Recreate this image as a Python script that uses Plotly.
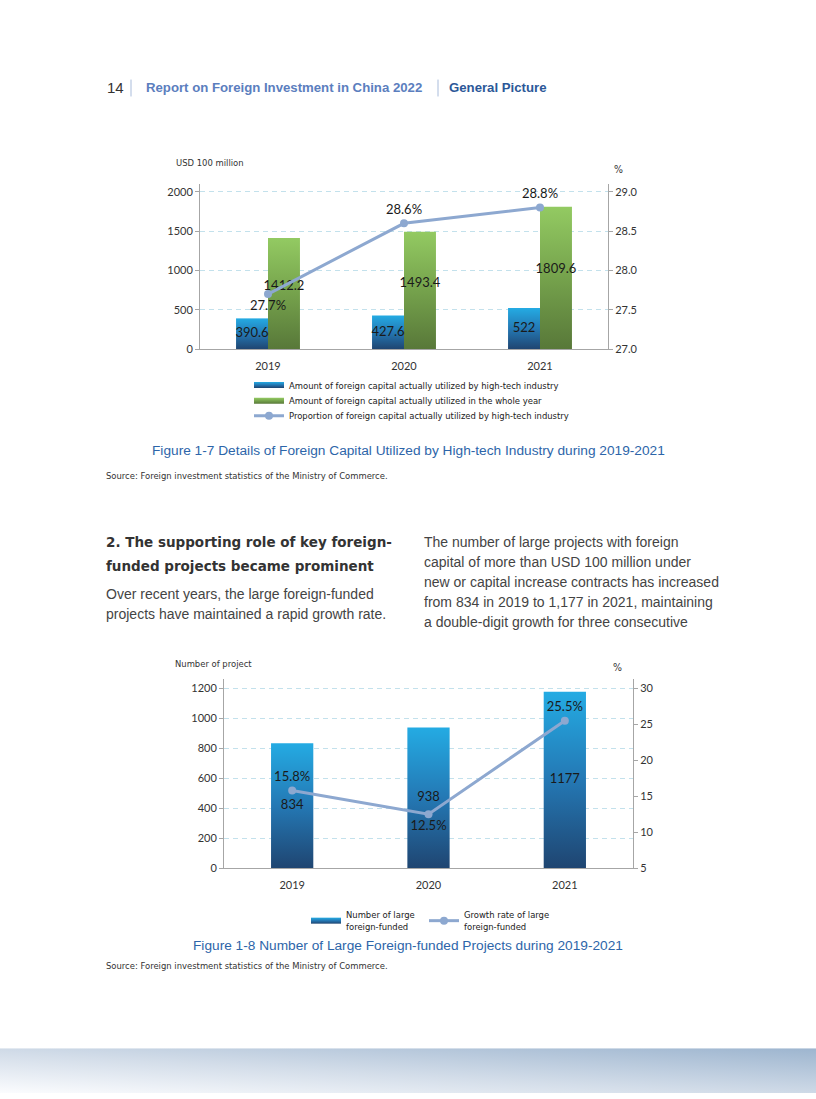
import base64
import plotly.graph_objects as go

# ---------------- data ----------------
years = ["2019", "2020", "2021"]
hightech_fdi = [390.6, 427.6, 522]          # USD 100 million
total_fdi = [1412.2, 1493.4, 1809.6]        # USD 100 million
hightech_share = [27.7, 28.6, 28.8]         # %
large_projects = [834, 938, 1177]           # number
large_growth = [15.8, 12.5, 25.5]           # %

left1_ticks = [0, 500, 1000, 1500, 2000]
right1_ticks = [27.0, 27.5, 28.0, 28.5, 29.0]
left2_ticks = [0, 200, 400, 600, 800, 1000, 1200]
right2_ticks = [5, 10, 15, 20, 25, 30]

# ---------------- page geometry helpers ----------------
W, H = 816, 1099


def px(x):
    return x / W


def py(y):
    return 1 - y / H


NARROW = "DejaVu Sans Condensed, Liberation Sans Narrow, Arial Narrow, sans-serif"
ARIAL = "Liberation Sans, Arial, sans-serif"
HEAD = "DejaVu Sans, Verdana, sans-serif"
CAL = "Lato, Carlito, Calibri, sans-serif"

BLUE_SCALE = [[0, "#1F4571"], [0.5, "#2478B4"], [1, "#24ABE3"]]
GREEN_SCALE = [[0, "#587839"], [0.5, "#75A24C"], [1, "#93CA62"]]
LINE_COLOR = "#8DA8D0"
AXIS_COLOR = "#A6A6A6"
GRID_COLOR = "#C3E1EC"
NSZ = 9.4

fig = go.Figure()


def bar_polygon(i, v, off0, off1):
    xs = [i + off0, i + off1, i + off1, i + off0, i + off0]
    ys = [0, 0, v, v, 0]
    return xs, ys


# ---------------- chart 1 ----------------
HW1 = 0.235
for i, v in enumerate(hightech_fdi):
    xs, ys = bar_polygon(i, v, -HW1, 0)
    fig.add_trace(go.Scatter(
        x=xs, y=ys, mode="none", fill="toself",
        fillgradient=dict(type="vertical", colorscale=BLUE_SCALE),
        name="Amount of foreign capital actually utilized by high-tech industry",
        legend="legend", legendgroup="ht", showlegend=(i == 0),
        xaxis="x", yaxis="y", hoverinfo="skip"))
for i, v in enumerate(total_fdi):
    xs, ys = bar_polygon(i, v, 0, HW1)
    fig.add_trace(go.Scatter(
        x=xs, y=ys, mode="none", fill="toself",
        fillgradient=dict(type="vertical", colorscale=GREEN_SCALE),
        name="Amount of foreign capital actually utilized in the whole year",
        legend="legend2", legendgroup="tot", showlegend=(i == 0),
        xaxis="x", yaxis="y", hoverinfo="skip"))

fig.add_trace(go.Scatter(
    x=[i - HW1 / 2 for i in range(len(years))], y=[v * 0.5 for v in hightech_fdi],
    mode="text", text=[f"{v:g}" for v in hightech_fdi],
    textfont=dict(family=CAL, size=13, color="#1A1A1A"),
    showlegend=False, xaxis="x", yaxis="y", hoverinfo="skip"))
fig.add_trace(go.Scatter(
    x=[i + HW1 / 2 for i in range(len(years))], y=[v * 0.56 for v in total_fdi],
    mode="text", text=[f"{v:g}" for v in total_fdi],
    textfont=dict(family=CAL, size=13, color="#1A1A1A"),
    showlegend=False, xaxis="x", yaxis="y", hoverinfo="skip"))

fig.add_trace(go.Scatter(
    x=list(range(len(years))), y=hightech_share,
    mode="lines+markers+text", text=[f"{v}%" for v in hightech_share],
    textposition=["bottom center", "top center", "top center"],
    textfont=dict(family=CAL, size=13, color="#1A1A1A"),
    line=dict(color=LINE_COLOR, width=3), marker=dict(color=LINE_COLOR, size=8),
    name="Proportion of foreign capital actually utilized by high-tech industry",
    legend="legend3", xaxis="x", yaxis="y2", hoverinfo="skip"))

# ---------------- chart 2 ----------------
HW2 = 0.155
for i, v in enumerate(large_projects):
    xs, ys = bar_polygon(i, v, -HW2, HW2)
    fig.add_trace(go.Scatter(
        x=xs, y=ys, mode="none", fill="toself",
        fillgradient=dict(type="vertical", colorscale=BLUE_SCALE),
        name="Number of large<br>foreign-funded",
        legend="legend4", legendgroup="lp", showlegend=(i == 0),
        xaxis="x2", yaxis="y3", hoverinfo="skip"))

fig.add_trace(go.Scatter(
    x=list(range(len(years))), y=[v * 0.5 for v in large_projects],
    mode="text", text=[f"{v:g}" for v in large_projects],
    textfont=dict(family=CAL, size=13, color="#1A1A1A"),
    showlegend=False, xaxis="x2", yaxis="y3", hoverinfo="skip"))

fig.add_trace(go.Scatter(
    x=list(range(len(years))), y=large_growth,
    mode="lines+markers+text", text=[f"{v}%" for v in large_growth],
    textposition=["top center", "bottom center", "top center"],
    textfont=dict(family=CAL, size=13, color="#1A1A1A"),
    line=dict(color=LINE_COLOR, width=3), marker=dict(color=LINE_COLOR, size=8),
    name="Growth rate of large<br>foreign-funded",
    legend="legend5", xaxis="x2", yaxis="y4", hoverinfo="skip"))

# ---------------- axes ----------------
tickfont = dict(family=CAL, size=11, color="#333333")
common_x = dict(range=[-0.5, 2.5], tickvals=list(range(len(years))), ticktext=years,
                showline=True, linecolor=AXIS_COLOR, linewidth=1, showgrid=False,
                zeroline=False, ticks="", tickfont=tickfont, fixedrange=True,
                ticklabelstandoff=7)
common_yl = dict(showline=True, linecolor=AXIS_COLOR, linewidth=1, ticks="outside",
                 ticklen=4, tickcolor=AXIS_COLOR, showgrid=True, gridcolor=GRID_COLOR,
                 griddash="5px,4px", gridwidth=1, zeroline=False, tickfont=tickfont,
                 fixedrange=True)
common_yr = dict(showline=True, linecolor=AXIS_COLOR, linewidth=1, ticks="outside",
                 ticklen=4, tickcolor=AXIS_COLOR, showgrid=False, zeroline=False,
                 tickfont=tickfont, side="right", fixedrange=True)

fig.update_layout(
    xaxis=dict(domain=[px(200), px(608)], anchor="y", **common_x),
    yaxis=dict(domain=[py(351), py(185)], anchor="x", range=[0, 2100],
               tickvals=left1_ticks, **common_yl),
    yaxis2=dict(overlaying="y", anchor="x", range=[27, 29.1], tickvals=right1_ticks,
                tickformat=".1f", **common_yr),
    xaxis2=dict(domain=[px(224), px(633)], anchor="y3", **common_x),
    yaxis3=dict(domain=[py(873), py(683)], anchor="x2", range=[0, 1260],
                tickvals=left2_ticks, **common_yl),
    yaxis4=dict(overlaying="y3", anchor="x2", range=[5, 31.25], tickvals=right2_ticks,
                **common_yr),
)

# ---------------- legends ----------------
legfont = dict(family=NARROW, size=NSZ, color="#222222")
leg_common = dict(xanchor="left", yanchor="middle", bgcolor="rgba(0,0,0,0)",
                  borderwidth=0, font=legfont, itemclick=False, itemdoubleclick=False)
fig.update_layout(
    legend=dict(x=px(249), y=py(387), **leg_common),
    legend2=dict(x=px(249), y=py(403), **leg_common),
    legend3=dict(x=px(249), y=py(418), **leg_common),
    legend4=dict(x=px(306), y=py(926), **leg_common),
    legend5=dict(x=px(424), y=py(926), **leg_common),
)

# ---------------- page texts ----------------
ann = []


def text(x, y, s, size, color, family=ARIAL, anchor="left", bold=False):
    ann.append(dict(x=px(x), y=py(y), xref="paper", yref="paper", text=s,
                    showarrow=False, xanchor=anchor, yanchor="middle",
                    font=dict(family=family, size=size, color=color,
                              weight="bold" if bold else "normal")))


text(105, 88, "14", 15, "#333333")
text(144, 88, "Report on Foreign Investment in China 2022", 13.2, "#5B7EBE", bold=True)
text(447, 88, "General Picture", 13.2, "#2C5898", bold=True)

text(174, 163, "USD 100 million", NSZ, "#333333", family=NARROW)
text(612, 170, "%", 10.5, "#333333", family=NARROW)
text(408, 453, "Figure 1-7 Details of Foreign Capital Utilized by High-tech Industry during 2019-2021",
     13.7, "#2D65A9", anchor="center")
text(104, 478, "Source: Foreign investment statistics of the Ministry of Commerce.", NSZ,
     "#333333", family=NARROW)

text(104, 545, "2. The supporting role of key foreign-", 13.5, "#333333", family=HEAD, bold=True)
text(104, 569, "funded projects became prominent", 13.5, "#333333", family=HEAD, bold=True)
text(104, 597, "Over recent years, the large foreign-funded", 14, "#444444")
text(104, 617, "projects have maintained a rapid growth rate.", 14, "#444444")

right_lines = [
    "The number of large projects with foreign",
    "capital of more than USD 100 million under",
    "new or capital increase contracts has increased",
    "from 834 in 2019 to 1,177 in 2021, maintaining",
    "a double-digit growth for three consecutive",
]
for k, s in enumerate(right_lines):
    text(422, 545 + 20 * k, s, 14, "#444444")

text(173, 667, "Number of project", NSZ, "#333333", family=NARROW)
text(611, 671, "%", 10.5, "#333333", family=NARROW)
text(408, 951, "Figure 1-8 Number of Large Foreign-funded Projects during 2019-2021",
     13.7, "#2D65A9", anchor="center")
text(104, 971, "Source: Foreign investment statistics of the Ministry of Commerce.", NSZ,
     "#333333", family=NARROW)

# header separators
shapes = [
    dict(type="line", xref="paper", yref="paper", x0=px(131), x1=px(131),
         y0=py(80), y1=py(97), line=dict(color="#A9BCDB", width=1)),
    dict(type="line", xref="paper", yref="paper", x0=px(438), x1=px(438),
         y0=py(80), y1=py(97), line=dict(color="#A9BCDB", width=1)),
]

# bottom decorative band
svg = ('<svg xmlns="http://www.w3.org/2000/svg" width="816" height="45" viewBox="0 0 816 45" '
       'preserveAspectRatio="none"><defs><linearGradient id="g" x1="0" y1="1" x2="1" y2="0">'
       '<stop offset="0" stop-color="#FBFCFE"/><stop offset="0.45" stop-color="#D3DDE9"/>'
       '<stop offset="1" stop-color="#9DB5CF"/></linearGradient></defs>'
       '<rect width="816" height="45" fill="url(#g)"/></svg>')
src = "data:image/svg+xml;base64," + base64.b64encode(svg.encode()).decode()

fig.update_layout(
    width=W, height=H, autosize=False,
    margin=dict(l=0, r=0, t=0, b=0),
    paper_bgcolor="white", plot_bgcolor="rgba(0,0,0,0)",
    annotations=ann, shapes=shapes,
    images=[dict(source=src, xref="paper", yref="paper", x=0, y=py(1054),
                 sizex=1, sizey=45 / H, xanchor="left", yanchor="top",
                 sizing="stretch", layer="below")],
    hovermode=False,
)

post = ("var s=document.createElement('style');"
        "s.textContent='html,body{margin:0!important;padding:0!important;overflow:hidden!important;"
        "background:#ffffff;}"
        ".plotly-graph-div{display:block;}';document.head.appendChild(s);")
fig.write_html("out.html", config={"displayModeBar": False, "staticPlot": True},
               post_script=post)
